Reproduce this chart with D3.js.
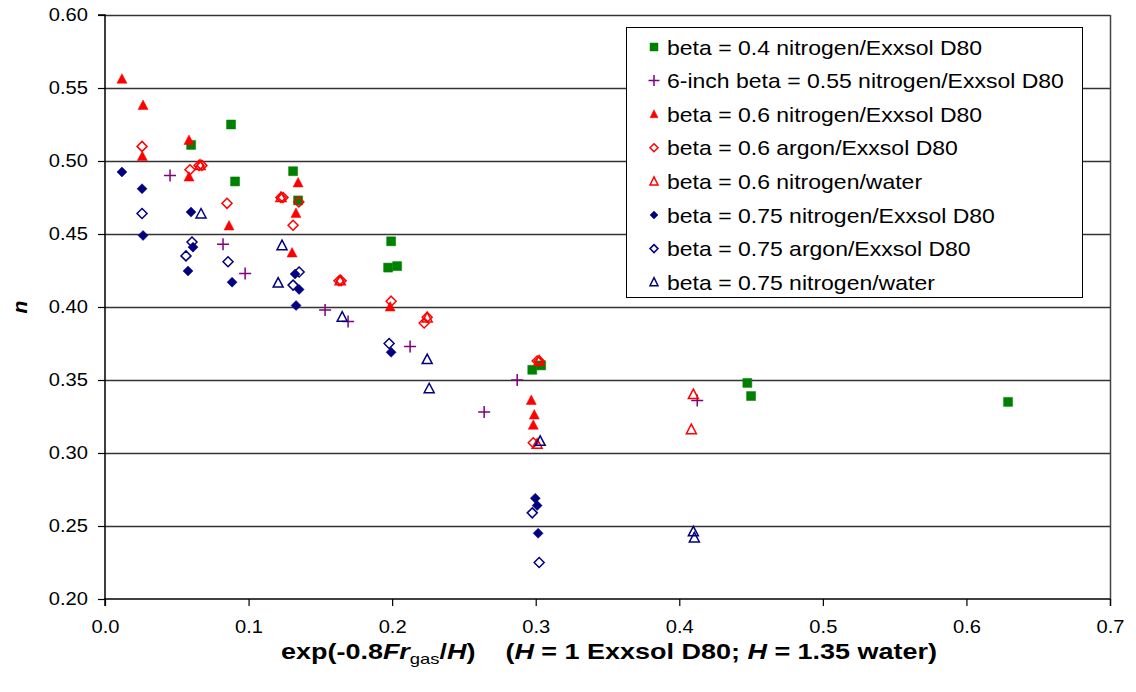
<!DOCTYPE html>
<html><head><meta charset="utf-8">
<script src="https://cdn.jsdelivr.net/npm/d3@7"></script>
<style>
body{margin:0;background:#fff}
text{font-family:"Liberation Sans",Arial,sans-serif}
</style></head>
<body><svg id="c" width="1136" height="692"></svg>
<script>
// ---- data ----
const xTicks = [0, 0.1, 0.2, 0.3, 0.4, 0.5, 0.6, 0.7];
const yTicks = [0.20, 0.25, 0.30, 0.35, 0.40, 0.45, 0.50, 0.55, 0.60];

const beta04N2Exx = [[0.060,0.511],[0.0878,0.525],[0.0906,0.486],[0.131,0.493],[0.1345,0.473],
  [0.1993,0.445],[0.1972,0.427],[0.2035,0.428],[0.2976,0.357],[0.3038,0.360],[0.4474,0.348],[0.450,0.339],[0.629,0.335]];
const sixInch055 = [[0.0453,0.490],[0.0822,0.443],[0.0976,0.423],[0.1533,0.398],[0.1693,0.390],
  [0.2125,0.373],[0.2871,0.350],[0.2641,0.328],[0.4125,0.336]];
const beta06N2Exx = [[0.0118,0.556],[0.0265,0.538],[0.0585,0.514],[0.026,0.503],[0.0585,0.489],[0.0864,0.4555],
  [0.1345,0.485],[0.133,0.464],[0.1303,0.437],[0.1986,0.400],[0.2969,0.336],[0.299,0.326],[0.2983,0.319]];
const beta06ArExx = [[0.0258,0.510],[0.0592,0.494],[0.0655,0.497],[0.0675,0.497],[0.085,0.471],[0.1225,0.475],[0.124,0.475],
  [0.135,0.472],[0.131,0.456],[0.1630,0.418],[0.1645,0.418],[0.1993,0.404],[0.2244,0.393],[0.2223,0.389],
  [0.301,0.363],[0.3025,0.363],[0.2983,0.307]];
const beta06N2Water = [[0.0662,0.497],[0.1226,0.475],[0.1638,0.418],[0.2244,0.3925],[0.3024,0.363],
  [0.4098,0.340],[0.4084,0.316],[0.3010,0.306]];
const beta075N2Exx = [[0.0118,0.4925],[0.0258,0.481],[0.0265,0.449],[0.0599,0.465],[0.0613,0.441],[0.0578,0.4247],
  [0.0885,0.417],[0.1324,0.4226],[0.1352,0.412],[0.1331,0.401],[0.1993,0.369],[0.2997,0.269],[0.301,0.264],[0.3017,0.245]];
const beta075ArExx = [[0.0258,0.464],[0.0606,0.4445],[0.0564,0.435],[0.0857,0.431],[0.1352,0.424],[0.131,0.415],
  [0.1979,0.375],[0.2976,0.259],[0.3024,0.225]];
const beta075N2Water = [[0.0669,0.4637],[0.1233,0.442],[0.1206,0.4164],[0.1652,0.393],[0.2244,0.364],[0.2258,0.344],
  [0.3031,0.308],[0.4098,0.246],[0.4105,0.2418]];

const seriesNames = ["beta = 0.4 nitrogen/Exxsol D80","6-inch beta = 0.55 nitrogen/Exxsol D80",
  "beta = 0.6 nitrogen/Exxsol D80","beta = 0.6 argon/Exxsol D80","beta = 0.6 nitrogen/water",
  "beta = 0.75 nitrogen/Exxsol D80","beta = 0.75 argon/Exxsol D80","beta = 0.75 nitrogen/water"];
const seriesData = [beta04N2Exx, sixInch055, beta06N2Exx, beta06ArExx, beta06N2Water, beta075N2Exx, beta075ArExx, beta075N2Water];
const seriesShape = ["square","cross","triangle","diamond","triangle","diamond","diamond","triangle"];
const seriesFill = ["#008000","none","#ff0000","none","none","#000080","none","none"];
const seriesStroke = ["#008000","#800080","#ff0000","#ff0000","#ff0000","#000080","#000080","#000080"];

// ---- layout ----
const svg = d3.select("#c");
const L = 105, R = 1110, T = 15, B = 599;
const x = d3.scaleLinear().domain([0, 0.7]).range([L, R]);
const y = d3.scaleLinear().domain([0.2, 0.6]).range([B, T]);
const STRETCH = 1.15; // text in the reference is horizontally wider than Liberation Sans
function widen(sel, f) {
  sel.each(function () {
    const w = this.getComputedTextLength();
    d3.select(this).attr("textLength", w * f).attr("lengthAdjust", "spacingAndGlyphs");
  });
}

// grid
svg.append("g").selectAll("line").data(yTicks.slice(1)).join("line")
  .attr("x1", L).attr("x2", R).attr("y1", d => Math.round(y(d)) + 0.5).attr("y2", d => Math.round(y(d)) + 0.5)
  .attr("stroke", "#333").attr("stroke-width", 1.3);
// right border
svg.append("line").attr("x1", R + 0.5).attr("x2", R + 0.5).attr("y1", T).attr("y2", B + 7)
  .attr("stroke", "#444").attr("stroke-width", 1.5);

// axes
const yAxis = d3.axisLeft(y).tickValues(yTicks).tickFormat(d3.format(".2f")).tickSize(7).tickPadding(10);
const xAxis = d3.axisBottom(x).tickValues(xTicks).tickFormat(d3.format(".1f")).tickSize(7).tickPadding(15);
const gy = svg.append("g").attr("transform", `translate(${L},0)`).call(yAxis);
const gx = svg.append("g").attr("transform", `translate(0,${B})`).call(xAxis);
[gx, gy].forEach(g => {
  g.select(".domain").attr("stroke", "#000").attr("stroke-width", 1.5);
  g.selectAll(".tick line").attr("stroke", "#000").attr("stroke-width", 1.2);
  g.selectAll("text").attr("fill", "#000").style("font-size", "17.5px")
    .style("font-family", '"Liberation Sans",Arial,sans-serif');
  widen(g.selectAll("text"), STRETCH);
});
gy.select(".domain").attr("d", `M-7,${T}H0V${B}`);
gx.select(".domain").attr("d", `M${L},7V0H${R}`);

// marker paths
function markerPath(shape) {
  switch (shape) {
    case "square": return "M-4.5,-4.5H4.5V4.5H-4.5Z";
    case "diamond": return "M0,-5L5,0L0,5L-5,0Z";
    case "triangle": return "M0,-5.5L5,4L-5,4Z";
    case "cross": return "M-6,0H6M0,-6V6";
  }
}
function markerSmall(shape) {
  switch (shape) {
    case "square": return "M-4,-4H4V4H-4Z";
    case "diamond": return "M0,-4L4,0L0,4L-4,0Z";
    case "triangle": return "M0,-4.5L4,3.5L-4,3.5Z";
    case "cross": return "M-5.5,0H5.5M0,-5.5V5.5";
  }
}

seriesData.forEach((data, i) => {
  svg.append("g").selectAll("path").data(data).join("path")
    .attr("transform", d => `translate(${x(d[0])},${y(d[1])})`)
    .attr("d", markerPath(seriesShape[i]))
    .attr("fill", seriesFill[i])
    .attr("stroke", seriesStroke[i])
    .attr("stroke-width", seriesShape[i] === "cross" ? 1.5 : (seriesFill[i] === "none" ? 1.5 : 0.5));
});

// legend
const lg = svg.append("g");
lg.append("rect").attr("x", 626.5).attr("y", 27.5).attr("width", 456).attr("height", 270)
  .attr("fill", "#fff").attr("stroke", "#000").attr("stroke-width", 1);
seriesNames.forEach((name, i) => {
  const cy = 47 + i * 33.6;
  lg.append("path").attr("transform", `translate(654,${cy})`).attr("d", markerSmall(seriesShape[i]))
    .attr("fill", seriesFill[i]).attr("stroke", seriesStroke[i])
    .attr("stroke-width", seriesShape[i] === "cross" ? 1.5 : (seriesFill[i] === "none" ? 1.5 : 0.5));
  const t = lg.append("text").attr("x", 667).attr("y", cy + 7.5).style("font-size", "21px").attr("fill", "#000").text(name);
  widen(t, 1.095);
});

// axis titles
svg.append("text").attr("transform", "translate(27,307) rotate(-90)").attr("text-anchor", "middle")
  .style("font-size", "21px").style("font-weight", "bold").style("font-style", "italic").text("n");

const xt = svg.append("text").attr("x", 609).attr("y", 659).attr("text-anchor", "middle")
  .style("font-size", "22px").style("font-weight", "bold");
xt.append("tspan").text("exp(-0.8");
xt.append("tspan").style("font-style", "italic").text("Fr");
xt.append("tspan").attr("dy", 5).style("font-size", "15px").style("font-weight", "normal").text("gas");
xt.append("tspan").attr("dy", -5).text("/");
xt.append("tspan").style("font-style", "italic").text("H");
xt.append("tspan").attr("xml:space", "preserve").text(")    (");
xt.append("tspan").style("font-style", "italic").text("H");
xt.append("tspan").text(" = 1 Exxsol D80; ");
xt.append("tspan").style("font-style", "italic").text("H");
xt.append("tspan").text(" = 1.35 water)");
xt.attr("textLength", 656).attr("lengthAdjust", "spacingAndGlyphs");
</script></body></html>
